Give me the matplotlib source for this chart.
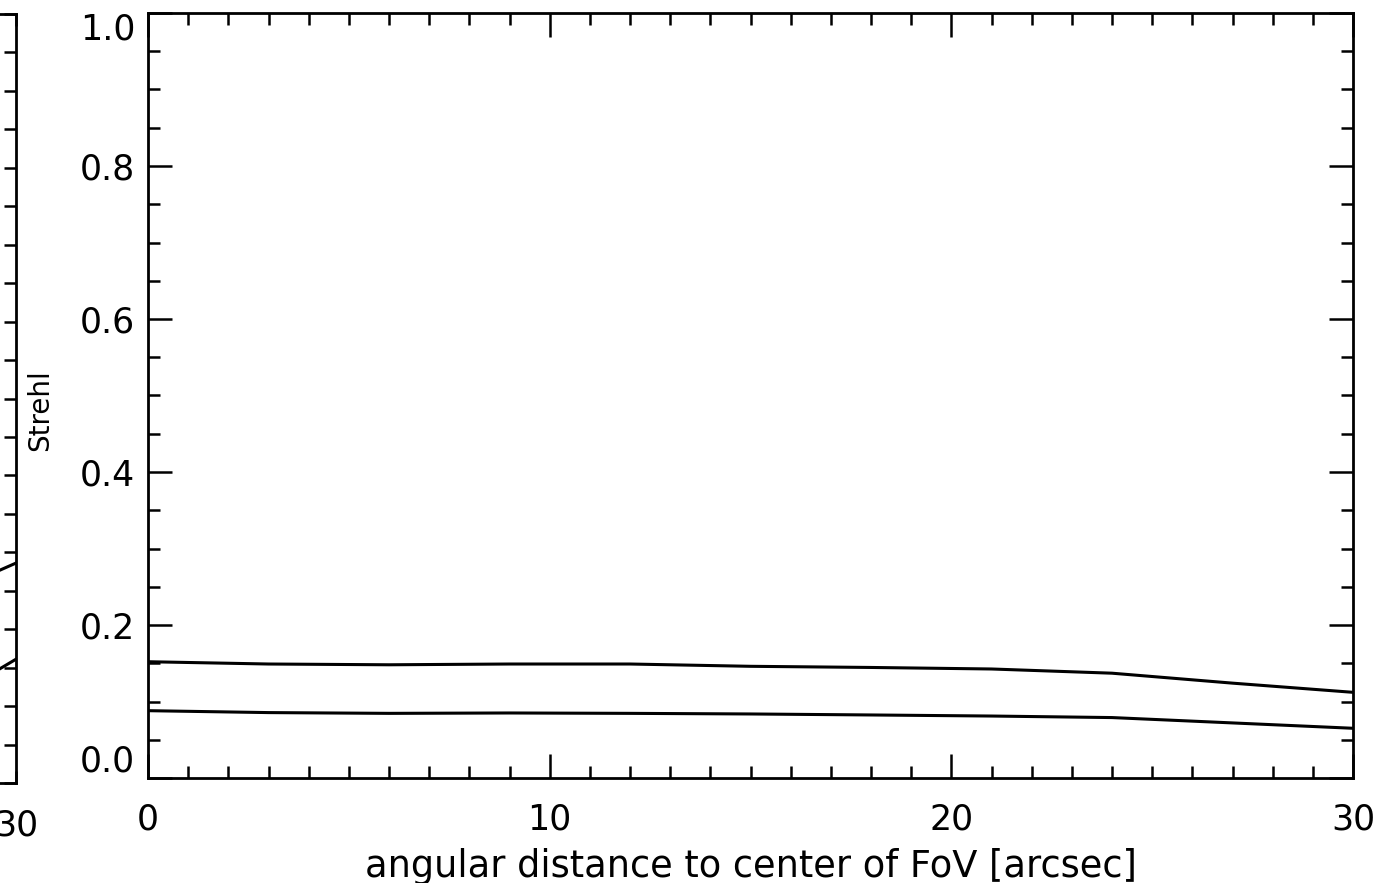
import numpy as np
import matplotlib.pyplot as plt
from matplotlib.ticker import MultipleLocator, FuncFormatter

# angular distance [arcsec] and Strehl for the two curves
dist = [0, 3, 6, 9, 12, 15, 18, 21, 24, 27, 30]
strehl_hi = [0.152, 0.149, 0.148, 0.149, 0.149, 0.146, 0.1445, 0.1425, 0.137, 0.124, 0.112]
strehl_lo = [0.088, 0.0855, 0.0845, 0.085, 0.0845, 0.0837, 0.0824, 0.081, 0.079, 0.072, 0.065]

# neighbouring panel (only its right edge is visible)
dist_prev = [28, 29, 30]
prev_hi = [0.24, 0.263, 0.286]
prev_lo = [0.099, 0.130, 0.161]

W, H = 1383, 883
fig = plt.figure(figsize=(W / 100, H / 100), dpi=100)
plt.rcParams['font.family'] = 'DejaVu Sans'
LAB = 25


def inner_fmt(v, pos):
    # end labels are drawn separately, shifted inside the frame
    if abs(v) < 1e-9 or abs(v - 1.0) < 1e-9:
        return ''
    return '%.1f' % v


def style(ax):
    ax.set_xlim(0, 30)
    ax.set_ylim(0, 1.0)
    ax.xaxis.set_major_locator(MultipleLocator(10))
    ax.xaxis.set_minor_locator(MultipleLocator(1))
    ax.yaxis.set_major_locator(MultipleLocator(0.2))
    ax.yaxis.set_minor_locator(MultipleLocator(0.05))
    ax.yaxis.set_major_formatter(FuncFormatter(inner_fmt))
    ax.tick_params(which='both', direction='in', top=True, right=True,
                   width=1.8, labelsize=LAB)
    ax.tick_params(which='major', length=17)
    ax.tick_params(which='minor', length=8.5)
    ax.tick_params(axis='x', which='major', pad=18)
    ax.tick_params(axis='y', which='major', pad=9)
    for s in ax.spines.values():
        s.set_linewidth(2.0)


# left panel, mostly off the canvas
ax0 = fig.add_axes([(16 - 1205) / W, (H - 783) / H, 1205 / W, 769 / H])
style(ax0)
ax0.tick_params(which='both', length=8.5)
ax0.plot(dist_prev, prev_hi, color='k', lw=2.2)
ax0.plot(dist_prev, prev_lo, color='k', lw=2.2)
ax0.set_yticklabels([])

# main panel
ax = fig.add_axes([148 / W, (H - 778) / H, 1205 / W, 765 / H])
style(ax)
ax.plot(dist, strehl_hi, color='k', lw=2.2)
ax.plot(dist, strehl_lo, color='k', lw=2.2)
ax.set_xlabel('angular distance to center of FoV [arcsec]', fontsize=26.5, labelpad=8)
fig.text(40 / W, (H - 410) / H, 'Strehl', rotation=90,
         fontsize=20, ha='center', va='center')

xr = -13 / 1205
ax.text(xr, 0.0, '0.0', transform=ax.get_yaxis_transform(), fontsize=LAB,
        ha='right', va='bottom')
ax.text(xr, 1.0, '1.0', transform=ax.get_yaxis_transform(), fontsize=LAB,
        ha='right', va='top')

fig.savefig('out.png', dpi=100)
